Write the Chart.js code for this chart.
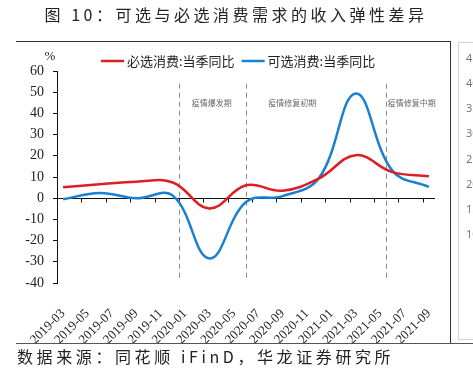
<!DOCTYPE html>
<html>
<head>
<meta charset="utf-8">
<script src="https://cdn.jsdelivr.net/npm/chart.js@4.4.0/dist/chart.umd.min.js"></script>
<style>
  html, body { margin: 0; padding: 0; background: #fff; }
  canvas { display: block; }
</style>
</head>
<body>
<canvas id="incomeChart" width="473" height="372"></canvas>
<script>
// monthly category axis, labels shown every second month
const months = [
  '2019-03', '2019-04', '2019-05', '2019-06', '2019-07', '2019-08', '2019-09', '2019-10',
  '2019-11', '2019-12', '2020-01', '2020-02', '2020-03', '2020-04', '2020-05', '2020-06',
  '2020-07', '2020-08', '2020-09', '2020-10', '2020-11', '2020-12', '2021-01', '2021-02',
  '2021-03', '2021-04', '2021-05', '2021-06', '2021-07', '2021-08', '2021-09'
];

// quarterly readings (当季同比, %)
const quarters = ['2019-03', '2019-06', '2019-09', '2019-12', '2020-03', '2020-06',
  '2020-09', '2020-12', '2021-03', '2021-06', '2021-09'];
const essential = [5.2, 6.6, 7.8, 7.4, -4.8, 6.1, 3.5, 9.4, 20.3, 12.3, 10.4];
const optional = [-0.5, 2.5, 0.0, 1.2, -28.4, -1.8, 1.0, 9.6, 49.4, 13.0, 5.3];

const seriesNames = ['必选消费:当季同比', '可选消费:当季同比'];

// phase dividers (category index) and where each phase label sits
const periodNames = ['疫情爆发期', '疫情修复初期', '疫情修复中期'];
const periodStarts = [9.5, 15, 26.5];
const periodLabelAt = [12.2, 18.8, 28.6];

// cut-off neighbouring chart on the right edge
const sideTicks = ['45', '40', '35', '30', '25', '20', '15', '10'];

const RED = '#dc1e25';
const BLUE = '#1b80d2';
const CJK = '"Noto Sans CJK SC", "Noto Sans", sans-serif';
const SERIF = '"Liberation Serif", "DejaVu Serif", serif';

function toPoints(values) {
  return quarters.map((q, i) => ({ x: q, y: values[i] }));
}

const decor = {
  id: 'decor',
  beforeDatasetsDraw(chart) {
    const { ctx, chartArea: a, scales: { x, y } } = chart;
    ctx.save();

    // zero line with tick marks every two months
    const y0 = Math.round(y.getPixelForValue(0)) + 0.5;
    ctx.strokeStyle = '#111';
    ctx.lineWidth = 1.2;
    ctx.beginPath();
    ctx.moveTo(a.left, y0);
    ctx.lineTo(a.right, y0);
    ctx.stroke();
    ctx.lineWidth = 1;
    for (let k = 2; k < months.length; k += 2) {
      const px = Math.round(x.getPixelForValue(k - 0.5)) + 0.5;
      ctx.beginPath();
      ctx.moveTo(px, y0);
      ctx.lineTo(px, y0 + 4);
      ctx.stroke();
    }

    // phase dividers
    ctx.strokeStyle = '#8a8a8a';
    ctx.setLineDash([5, 4]);
    periodStarts.forEach(v => {
      const px = Math.round(x.getPixelForValue(v)) + 0.5;
      ctx.beginPath();
      ctx.moveTo(px, y.getPixelForValue(54));
      ctx.lineTo(px, y.getPixelForValue(-37.5));
      ctx.stroke();
    });
    ctx.setLineDash([]);

    ctx.fillStyle = '#666';
    ctx.font = '8px ' + CJK;
    ctx.textAlign = 'center';
    ctx.textBaseline = 'middle';
    periodNames.forEach((name, i) => {
      ctx.fillText(name, x.getPixelForValue(periodLabelAt[i]), y.getPixelForValue(45));
    });
    ctx.restore();
  },
  afterDraw(chart) {
    const { ctx } = chart;
    ctx.save();

    // title
    ctx.fillStyle = '#222';
    ctx.font = '16px ' + CJK;
    ctx.letterSpacing = '3.5px';
    ctx.textAlign = 'center';
    ctx.textBaseline = 'middle';
    ctx.fillText('图 10：可选与必选消费需求的收入弹性差异', 236, 15);

    // source note
    ctx.font = '16px ' + CJK;
    ctx.letterSpacing = '3.6px';
    ctx.textAlign = 'left';
    ctx.fillText('数据来源：同花顺 iFinD，华龙证券研究所', 17, 357);
    ctx.letterSpacing = '0px';

    // frame
    ctx.strokeStyle = '#333';
    ctx.lineWidth = 1;
    ctx.beginPath();
    ctx.moveTo(16, 41.5);
    ctx.lineTo(451, 41.5);
    ctx.moveTo(450.5, 41);
    ctx.lineTo(450.5, 343);
    ctx.stroke();
    ctx.strokeStyle = '#555';
    ctx.beginPath();
    ctx.moveTo(16, 343.5);
    ctx.lineTo(473, 343.5);
    ctx.stroke();

    // neighbouring panel
    ctx.strokeStyle = '#d4d4d4';
    ctx.strokeRect(458.5, 42.5, 30, 297);
    ctx.fillStyle = '#777';
    ctx.font = '11px "Noto Sans", sans-serif';
    ctx.textBaseline = 'middle';
    sideTicks.forEach((t, i) => ctx.fillText(t, 466, 59 + i * 25.1));

    // unit
    ctx.fillStyle = '#222';
    ctx.font = '13px ' + SERIF;
    ctx.textAlign = 'center';
    ctx.fillText('%', 50, 57);

    // legend
    ctx.font = '13px ' + CJK;
    ctx.textAlign = 'left';
    let lx = 101;
    const ly = 61;
    chart.data.datasets.forEach(ds => {
      ctx.strokeStyle = ds.borderColor;
      ctx.lineWidth = 2.5;
      ctx.beginPath();
      ctx.moveTo(lx, ly);
      ctx.lineTo(lx + 23, ly);
      ctx.stroke();
      ctx.fillStyle = '#222';
      ctx.fillText(ds.label, lx + 26, ly);
      lx += 26 + ctx.measureText(ds.label).width + 7;
    });
    ctx.restore();
  }
};

new Chart(document.getElementById('incomeChart'), {
  type: 'line',
  data: {
    labels: months,
    datasets: [
      { label: seriesNames[0], data: toPoints(essential), borderColor: RED, backgroundColor: RED },
      { label: seriesNames[1], data: toPoints(optional), borderColor: BLUE, backgroundColor: BLUE }
    ]
  },
  options: {
    responsive: false,
    animation: false,
    layout: { padding: { top: 71, left: 16, right: 38, bottom: 0 } },
    elements: {
      point: { radius: 0 },
      line: { tension: 0.4, borderWidth: 2.5, fill: false }
    },
    plugins: {
      legend: { display: false },
      tooltip: { enabled: false }
    },
    scales: {
      x: {
        offset: true,
        grid: { display: false },
        border: { display: false },
        ticks: {
          autoSkip: false,
          minRotation: 45,
          maxRotation: 45,
          padding: 15,
          color: '#222',
          font: { family: SERIF, size: 13 },
          callback: (v, i) => (i % 2 === 0 ? months[i] : '')
        },
        afterFit(scale) { scale.height = 89; }
      },
      y: {
        min: -40,
        max: 60,
        ticks: { stepSize: 10, padding: 9, color: '#222', font: { family: SERIF, size: 14 } },
        grid: { drawOnChartArea: false, tickLength: 4, color: '#111' },
        border: { color: '#111' },
        afterFit(scale) { scale.width = 41; }
      }
    }
  },
  plugins: [decor]
});
</script>
</body>
</html>
